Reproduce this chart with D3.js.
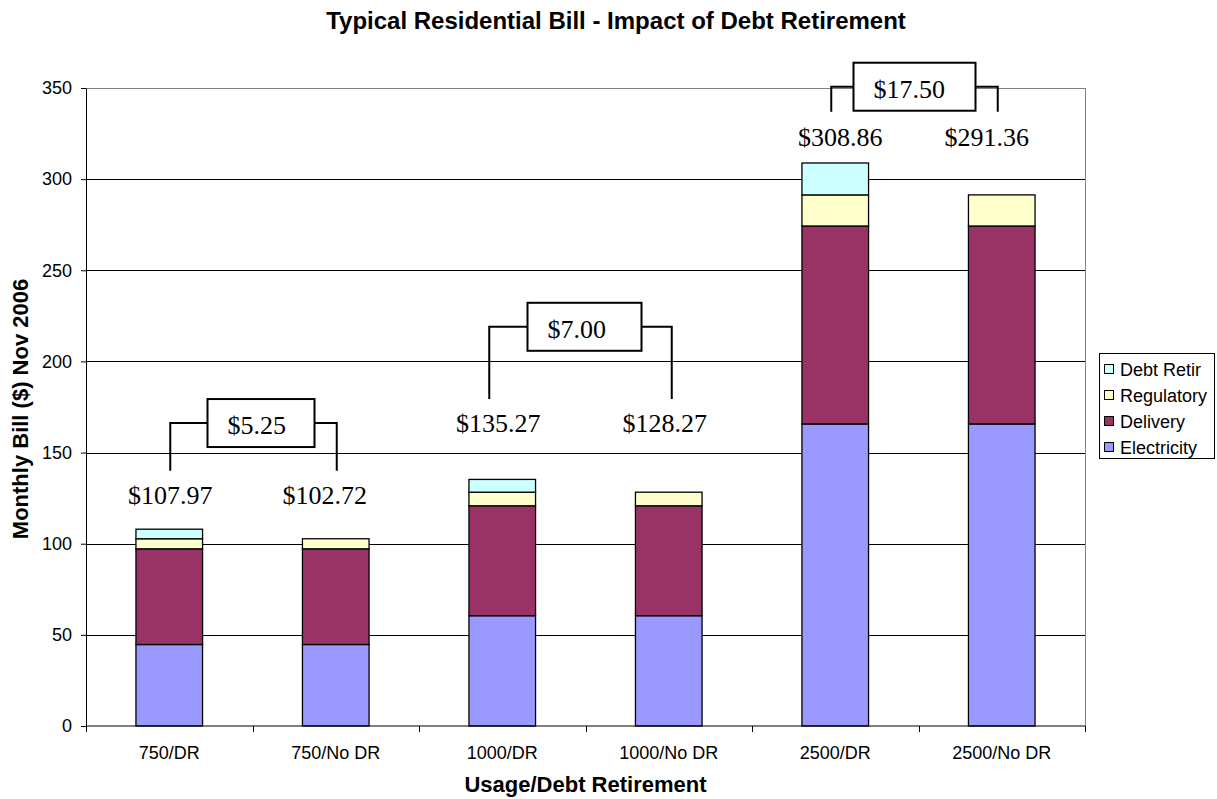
<!DOCTYPE html>
<html>
<head>
<meta charset="utf-8">
<script src="https://cdn.jsdelivr.net/npm/d3@7"></script>
<style>
  body { margin: 0; background: #fff; }
  text { font-family: Arial, "Liberation Sans", sans-serif; }
  text.serif { font-family: "Liberation Serif", "Times New Roman", serif; }
</style>
</head>
<body>
<div id="chart"></div>
<script>
// data
var categories = ["750/DR", "750/No DR", "1000/DR", "1000/No DR", "2500/DR", "2500/No DR"];
var seriesNames = ["Electricity", "Delivery", "Regulatory", "Debt Retir"];
var electricity = [44.7, 44.7, 60.5, 60.5, 165.7, 165.7];
var delivery    = [52.5, 52.5, 60.3, 60.3, 108.6, 108.6];
var regulatory  = [5.52, 5.52, 7.47, 7.47, 17.06, 17.06];
var debtRetir   = [5.25, 0, 7.00, 0, 17.50, 0];
var totalLabels = ["$107.97", "$102.72", "$135.27", "$128.27", "$308.86", "$291.36"];
var diffLabels  = ["$5.25", "$7.00", "$17.50"];
var yTicks = [0, 50, 100, 150, 200, 250, 300, 350];

var colors = {
    "Electricity": "#9999ff",
    "Delivery": "#993366",
    "Regulatory": "#ffffcc",
    "Debt Retir": "#ccffff"
};

var W = 1217, H = 799;
var margin = { top: 88, left: 86, right: 132, bottom: 73 },
    width = W - margin.left - margin.right,
    height = H - margin.top - margin.bottom;

var svg = d3.select("#chart").append("svg")
    .attr("width", W)
    .attr("height", H);

var g = svg.append("g")
    .attr("transform", "translate(" + margin.left + "," + margin.top + ")");

var x = d3.scaleBand().domain(categories).range([0, width]).padding(0);
var y = d3.scaleLinear().domain([0, 350]).range([height, 0]);
var barW = x.bandwidth() * 0.4;

// gridlines
g.selectAll(".grid")
    .data(yTicks.filter(function(d) { return d > 0; }))
    .enter().append("line")
    .attr("x1", 0).attr("x2", width)
    .attr("y1", function(d) { return Math.round(y(d)) + 0.5; })
    .attr("y2", function(d) { return Math.round(y(d)) + 0.5; })
    .attr("stroke", function(d) { return d === 350 ? "#808080" : "#000"; })
    .attr("stroke-width", 1);

// right border of plot area
g.append("line")
    .attr("x1", width + 0.5).attr("x2", width + 0.5)
    .attr("y1", 0).attr("y2", height)
    .attr("stroke", "#808080");

// stacked bars
var rows = categories.map(function(c, i) {
    return { cat: c, "Electricity": electricity[i], "Delivery": delivery[i],
             "Regulatory": regulatory[i], "Debt Retir": debtRetir[i] };
});
var stack = d3.stack().keys(seriesNames)(rows);

g.selectAll(".layer")
    .data(stack)
    .enter().append("g")
    .attr("fill", function(d) { return colors[d.key]; })
    .selectAll("rect")
    .data(function(d) { return d.filter(function(p) { return p[1] - p[0] > 0; }); })
    .enter().append("rect")
    .attr("x", function(d) { return x(d.data.cat) + (x.bandwidth() - barW) / 2; })
    .attr("y", function(d) { return y(d[1]); })
    .attr("width", barW)
    .attr("height", function(d) { return y(d[0]) - y(d[1]); })
    .attr("stroke", "#000")
    .attr("stroke-width", 1.3);

// axes
var yAxis = g.append("g")
    .call(d3.axisLeft(y).tickValues(yTicks).tickSize(5).tickSizeOuter(0));
yAxis.select(".domain").attr("stroke", "#000");
yAxis.selectAll("text").attr("font-size", 18).attr("fill", "#000").attr("dx", -6);

var xAxis = g.append("g")
    .attr("transform", "translate(0," + height + ")");
xAxis.append("line")
    .attr("x1", 0).attr("x2", width)
    .attr("stroke", "#000");
xAxis.selectAll(".tick")
    .data(d3.range(categories.length + 1))
    .enter().append("line")
    .attr("x1", function(i) { return Math.round(i * x.step()) + 0.5; })
    .attr("x2", function(i) { return Math.round(i * x.step()) + 0.5; })
    .attr("y1", 0).attr("y2", 6)
    .attr("stroke", "#000");
xAxis.selectAll(".cat")
    .data(categories)
    .enter().append("text")
    .attr("x", function(d) { return x(d) + x.bandwidth() / 2; })
    .attr("y", 33)
    .attr("text-anchor", "middle")
    .attr("font-size", 18)
    .text(function(d) { return d; });

// titles
svg.append("text")
    .attr("x", 616).attr("y", 29)
    .attr("text-anchor", "middle")
    .attr("font-size", 24).attr("font-weight", "bold")
    .text("Typical Residential Bill - Impact of Debt Retirement");

svg.append("text")
    .attr("x", margin.left + width / 2).attr("y", 792)
    .attr("text-anchor", "middle")
    .attr("font-size", 22).attr("font-weight", "bold")
    .text("Usage/Debt Retirement");

svg.append("text")
    .attr("transform", "translate(28,409) rotate(-90)")
    .attr("text-anchor", "middle")
    .attr("font-size", 22).attr("font-weight", "bold")
    .text("Monthly Bill ($) Nov 2006");

// annotation layout (data-unit levels and pixel nudges)
var annot = [
    { left: 0, labelY: 126.7, top: 166.2, bottom: 140.0, lx: 1, rx: 1, llab: 1, rlab: -11, box: [-45, 62] },
    { left: 2, labelY: 166.2, top: 219.0, bottom: 179.4, lx: -13, rx: 3, llab: -4, rlab: -4, box: [-58, 56] },
    { left: 4, labelY: 323.1, top: 350.7, bottom: 337.0, lx: -4, rx: -4, llab: 5, rlab: -15, box: [-65, 57] }
];

var ann = g.append("g").attr("class", "annotations");
annot.forEach(function(a, k) {
    var cl = x(categories[a.left]) + x.bandwidth() / 2,
        cr = x(categories[a.left + 1]) + x.bandwidth() / 2,
        mid = (cl + cr) / 2,
        yt = y(a.top), yb = y(a.bottom),
        bx0 = mid + a.box[0], bx1 = mid + a.box[1];

    ann.append("path")
        .attr("d", "M" + (cl + a.lx) + "," + yb + "V" + yt + "H" + bx0 +
                   "M" + bx1 + "," + yt + "H" + (cr + a.rx) + "V" + yb)
        .attr("fill", "none").attr("stroke", "#000").attr("stroke-width", 2);

    ann.append("rect")
        .attr("x", bx0).attr("y", yt - 24)
        .attr("width", bx1 - bx0).attr("height", 48)
        .attr("fill", "#fff").attr("stroke", "#000").attr("stroke-width", 2);

    ann.append("text")
        .attr("class", "serif")
        .attr("x", bx0 + 20).attr("y", yt + 11)
        .attr("font-size", 26)
        .text(diffLabels[k]);

    [[a.left, cl + a.llab], [a.left + 1, cr + a.rlab]].forEach(function(p) {
        ann.append("text")
            .attr("class", "serif")
            .attr("x", p[1]).attr("y", y(a.labelY) + 9)
            .attr("text-anchor", "middle")
            .attr("font-size", 26)
            .text(totalLabels[p[0]]);
    });
});

// legend
var legend = svg.append("g").attr("transform", "translate(1099,353)");
legend.append("rect")
    .attr("x", 0.5).attr("y", 0.5)
    .attr("width", 115).attr("height", 105)
    .attr("fill", "#fff").attr("stroke", "#000");
var items = legend.selectAll(".item")
    .data(seriesNames.slice().reverse())
    .enter().append("g")
    .attr("transform", function(d, i) { return "translate(5," + (16 + i * 26) + ")"; });
items.append("rect")
    .attr("x", 0.5).attr("y", -4.5)
    .attr("width", 9).attr("height", 9)
    .attr("fill", function(d) { return colors[d]; })
    .attr("stroke", "#000");
items.append("text")
    .attr("x", 16).attr("y", 6.5)
    .attr("font-size", 18)
    .text(function(d) { return d; });
</script>
</body>
</html>
